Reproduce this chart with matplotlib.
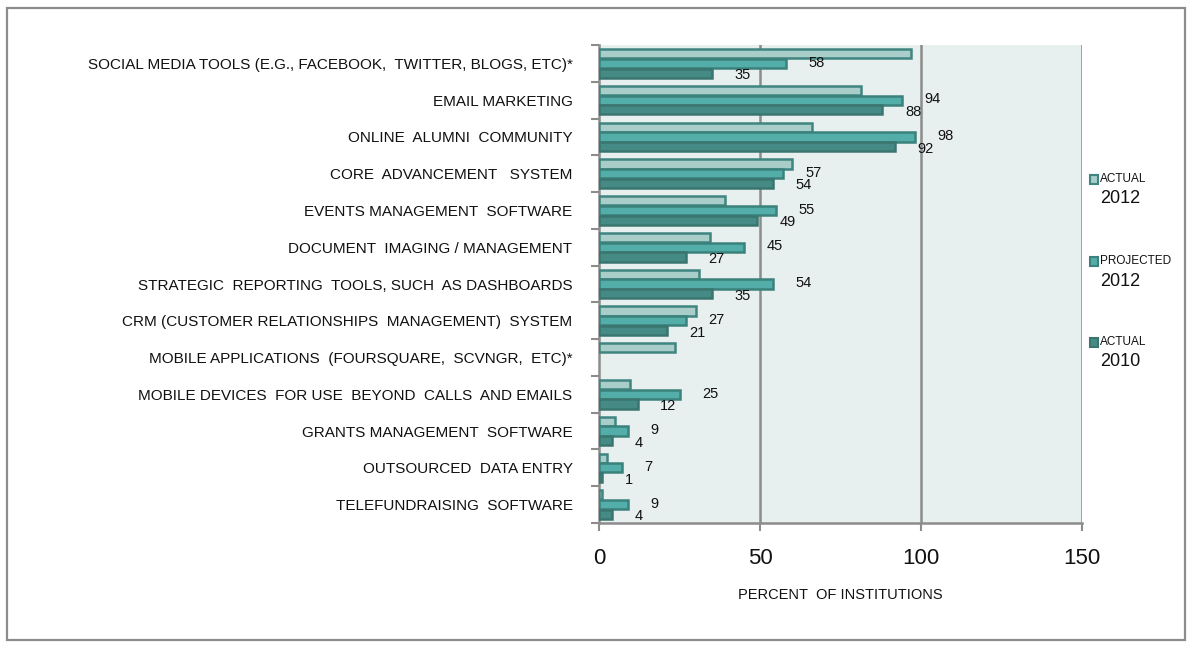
import numpy as np
import matplotlib
matplotlib.use("Agg")
import matplotlib.pyplot as plt
from matplotlib.patches import Rectangle

plt.rcParams['font.family'] = ['Liberation Sans', 'DejaVu Sans']

categories = [
    "SOCIAL MEDIA TOOLS (E.G., FACEBOOK,  TWITTER, BLOGS, ETC)*",
    "EMAIL MARKETING",
    "ONLINE  ALUMNI  COMMUNITY",
    "CORE  ADVANCEMENT   SYSTEM",
    "EVENTS MANAGEMENT  SOFTWARE",
    "DOCUMENT  IMAGING / MANAGEMENT",
    "STRATEGIC  REPORTING  TOOLS, SUCH  AS DASHBOARDS",
    "CRM (CUSTOMER RELATIONSHIPS  MANAGEMENT)  SYSTEM",
    "MOBILE APPLICATIONS  (FOURSQUARE,  SCVNGR,  ETC)*",
    "MOBILE DEVICES  FOR USE  BEYOND  CALLS  AND EMAILS",
    "GRANTS MANAGEMENT  SOFTWARE",
    "OUTSOURCED  DATA ENTRY",
    "TELEFUNDRAISING  SOFTWARE",
]
actual_2012 = [97, 81.5, 66, 60, 39, 34.5, 31, 30, 23.5, 9.5, 5, 2.5, 1]
projected_2012 = [58, 94, 98, 57, 55, 45, 54, 27, np.nan, 25, 9, 7, 9]
actual_2010 = [35, 88, 92, 54, 49, 27, 35, 21, np.nan, 12, 4, 1, 4]

series_names = [("ACTUAL", "2012"), ("PROJECTED", "2012"), ("ACTUAL", "2010")]
x_ticks = [0, 50, 100, 150]
x_label = "PERCENT  OF INSTITUTIONS"

fills = ["#A9CDC9", "#53ADA8", "#458A84"]
edges = ["#3F8580", "#3B817C", "#3A7570"]
grey = "#8C8C8C"

fig = plt.figure(figsize=(11.93, 6.48), dpi=100)
ax = fig.add_axes([599/1193, 1-523/648, (1082-599)/1193, (523-45)/648])
ax.set_facecolor("#E8F0EF")

n = len(categories)
y = np.arange(n)
offs = [-0.265, 0.0, 0.265]
h = 0.25
for vals, off, fc, ec in zip([actual_2012, projected_2012, actual_2010], offs, fills, edges):
    v = np.array(vals, dtype=float)
    m = ~np.isnan(v)
    ax.barh(y[m] + off, v[m], height=h, color=fc, edgecolor=ec, linewidth=1.8, zorder=3)

# value labels for projected 2012 and actual 2010
for vals, off in [(projected_2012, -0.02), (actual_2010, 0.32)]:
    for yi, v in zip(y, vals):
        if np.isnan(v):
            continue
        ax.text(v + 7, yi + off, f"{int(v)}", ha='left', va='center',
                fontsize=10.5, color='#111111', zorder=4)

ax.set_xlim(0, 150)
ax.set_ylim(n - 0.5, -0.5)
ax.set_xticks(x_ticks)
ax.set_xticklabels([str(t) for t in x_ticks], fontsize=16, color='#111111')
ax.tick_params(axis='x', direction='out', length=6, width=1.5, color=grey, pad=12)
ax.set_yticks(y)
ax.set_yticklabels(categories, fontsize=11, color='#111111')
ax.tick_params(axis='y', which='major', length=0, pad=19)
ax.set_yticks(np.arange(n + 1) - 0.5, minor=True)
ax.tick_params(axis='y', which='minor', direction='out', length=6, width=1.5, color=grey)

for xv in x_ticks[1:]:
    ax.axvline(xv, color=grey, lw=1.8, zorder=2)

for s in ['top', 'right']:
    ax.spines[s].set_visible(False)
for s in ['left', 'bottom']:
    ax.spines[s].set_color(grey)
    ax.spines[s].set_linewidth(1.8)

ax.set_xlabel(x_label, fontsize=10.5, color='#111111', labelpad=14)

# legend (manual)
leg_y = [179, 261, 342]
for (t1, t2), fc, ec, ly in zip(series_names, fills, edges, leg_y):
    fig.patches.append(Rectangle((1090/1193, 1-(ly+4.5)/648), 8/1193, 9/648,
                                 transform=fig.transFigure, facecolor=fc,
                                 edgecolor=ec, linewidth=1.5))
    fig.text(1100/1193, 1-ly/648, t1, fontsize=8.5, va='center', ha='left', color='#111111')
    fig.text(1100/1193, 1-(ly+20)/648, t2, fontsize=13, va='center', ha='left', color='#111111')

# outer border
fig.patches.append(Rectangle((7/1193, 1-640/648), (1185-7)/1193, (640-8)/648,
                             transform=fig.transFigure, fill=False,
                             edgecolor=grey, linewidth=1.6))

fig.savefig("out.png", dpi=100)
